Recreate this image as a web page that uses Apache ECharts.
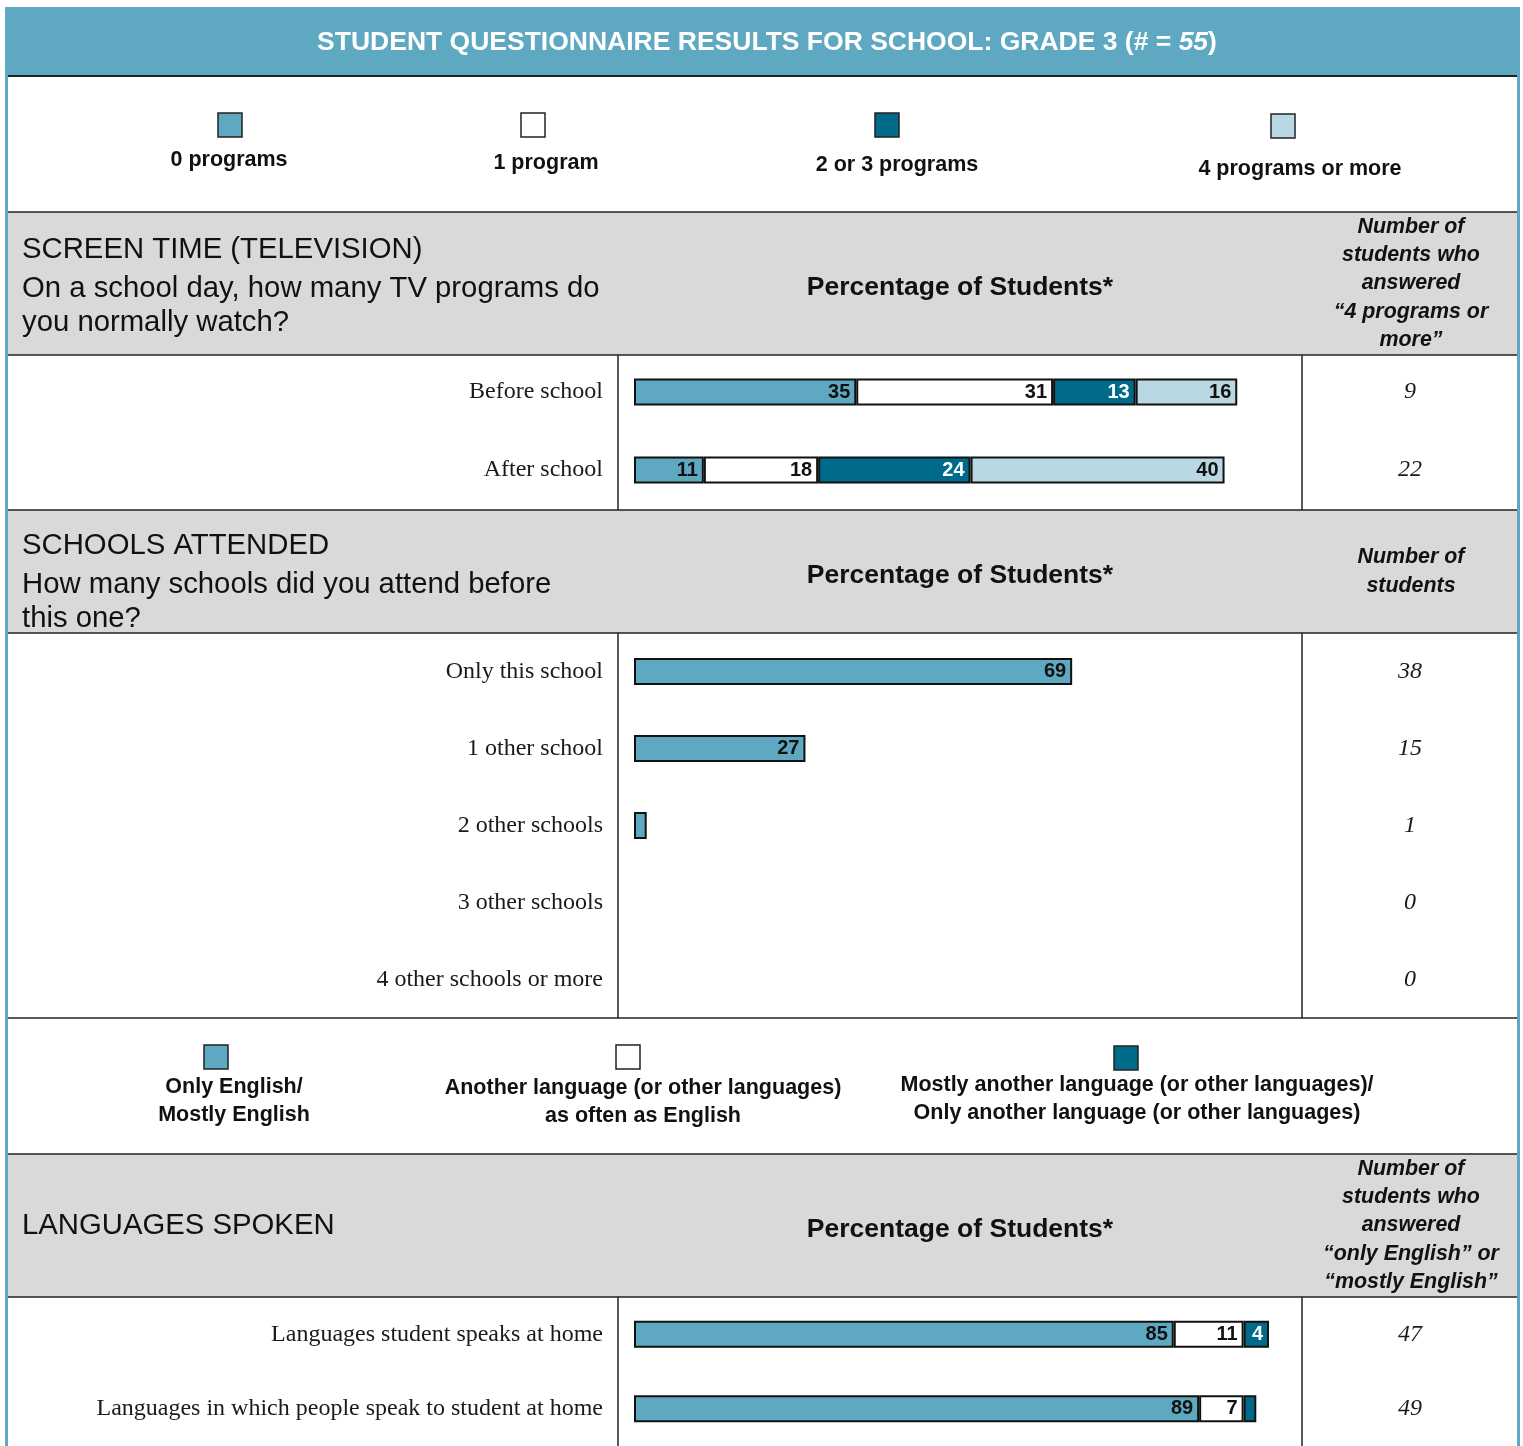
<!DOCTYPE html>
<html>
<head>
<meta charset="utf-8">
<script src="https://cdn.jsdelivr.net/npm/echarts@6/dist/echarts.min.js"></script>
<style>
  html, body { margin: 0; padding: 0; background: #ffffff; }
  #chart { width: 1523px; height: 1446px; }
</style>
</head>
<body>
<div id="chart"></div>
<script>
// ---- Screen time (television) ----
const tvCategories = ['Before school', 'After school'];
const tvNames = ['0 programs', '1 program', '2 or 3 programs', '4 programs or more'];
const tvZero = [35, 11];
const tvOne = [31, 18];
const tvTwoThree = [13, 24];
const tvFourPlus = [16, 40];
const tvCounts = [9, 22];

// ---- Schools attended ----
const schoolCategories = ['Only this school', '1 other school', '2 other schools', '3 other schools', '4 other schools or more'];
const schoolValues = [69, 27, 2, 0, 0];
const schoolCounts = [38, 15, 1, 0, 0];

// ---- Languages spoken ----
const langCategories = ['Languages student speaks at home', 'Languages in which people speak to student at home'];
const langNames = ['Only English/\nMostly English', 'Another language (or other languages)\nas often as English', 'Mostly another language (or other languages)/\nOnly another language (or other languages)'];
const langEnglish = [85, 89];
const langBoth = [11, 7];
const langOther = [4, 2];
const langCounts = [47, 49];

const C_TEAL = '#5ea9c1';
const C_WHITE = '#ffffff';
const C_DARK = '#006a8a';
const C_LIGHT = '#b9d8e3';
const C_GRAY = '#d9d9d9';
const SANS = '"Liberation Sans", Arial, sans-serif';
const SERIF = '"Liberation Serif", "Times New Roman", serif';

const chart = echarts.init(document.getElementById('chart'), null, { renderer: 'canvas' });

function barData(arr) {
  return arr.map(v => v === 0 ? { value: 0, itemStyle: { borderWidth: 0 } } : v);
}

function barSeries(name, data, gridIdx, color, labelColor, stack) {
  return {
    type: 'bar',
    name: name,
    xAxisIndex: gridIdx,
    yAxisIndex: gridIdx * 2,
    stack: stack,
    data: barData(data),
    barWidth: 27,
    itemStyle: { color: color, borderColor: '#111', borderWidth: 2 },
    label: {
      show: true,
      position: 'insideRight',
      distance: 6,
      color: labelColor,
      fontFamily: SANS,
      fontWeight: 'bold',
      fontSize: 20,
      formatter: p => (p.value >= 3 ? String(p.value) : '')
    },
    animation: false
  };
}

// grid geometry for the three bar panels
const grids = [
  { left: 634, width: 635, top: 353, height: 156 },
  { left: 634, width: 635, top: 633, height: 385 },
  { left: 634, width: 635, top: 1297, height: 154 }
];
const catSets = [tvCategories, schoolCategories, langCategories];
const countSets = [tvCounts, schoolCounts, langCounts];

const xAxes = grids.map((g, i) => ({
  type: 'value', gridIndex: i, min: 0, max: 100, show: false
}));
const yAxes = [];
grids.forEach((g, i) => {
  yAxes.push({
    type: 'category', gridIndex: i, inverse: true, data: catSets[i],
    axisLine: { show: false }, axisTick: { show: false }, splitLine: { show: false },
    axisLabel: { margin: 31, fontFamily: SERIF, fontSize: 24, color: '#1a1a1a', padding: [4, 0, 0, 0] }
  });
  yAxes.push({
    type: 'category', gridIndex: i, inverse: true, position: 'right',
    data: countSets[i].map(String),
    axisLine: { show: false }, axisTick: { show: false }, splitLine: { show: false },
    axisLabel: { margin: 141, align: 'center', fontFamily: SERIF, fontStyle: 'italic', fontSize: 24, color: '#1a1a1a', padding: [4, 0, 0, 0] }
  });
});

// ---- static table framework ----
const g = [];
function rect(x, y, w, h, fill) {
  g.push({ type: 'rect', shape: { x, y, width: w, height: h }, style: { fill: fill }, silent: true });
}
function hline(y, w) {
  g.push({ type: 'line', shape: { x1: 8, y1: y, x2: 1517, y2: y }, style: { stroke: '#222', lineWidth: w || 1.5 }, silent: true });
}
function vline(x, y1, y2) {
  g.push({ type: 'line', shape: { x1: x, y1: y1, x2: x, y2: y2 }, style: { stroke: '#222', lineWidth: 1.5 }, silent: true });
}
function text(str, x, y, font, align, fill) {
  g.push({
    type: 'text', silent: true,
    style: { text: str, x: x, y: y, font: font, fill: fill || '#111', textAlign: align || 'center', textVerticalAlign: 'middle' }
  });
}
function swatch(cx, cy, color) {
  g.push({ type: 'rect', shape: { x: cx - 12, y: cy - 12, width: 24, height: 24 }, style: { fill: color, stroke: '#222', lineWidth: 1.5 }, silent: true });
}

// title band and outer frame
rect(5, 7, 1515, 69, C_TEAL);
rect(5, 7, 3, 1439, C_TEAL);
rect(1517, 7, 3, 1439, C_TEAL);

// gray section headers
rect(8, 212, 1509, 143, C_GRAY);
rect(8, 510, 1509, 123, C_GRAY);
rect(8, 1154, 1509, 143, C_GRAY);

hline(76, 2);
hline(212); hline(355); hline(510); hline(633); hline(1018); hline(1154); hline(1297);
vline(618, 355, 510); vline(1302, 355, 510);
vline(618, 633, 1018); vline(1302, 633, 1018);
vline(618, 1297, 1446); vline(1302, 1297, 1446);

// first legend: swatch centre x, swatch centre y, label centre x, label centre y
const BOLD_LEG = 'bold 21.5px ' + SANS;
const tvColors = [C_TEAL, C_WHITE, C_DARK, C_LIGHT];
const tvLegendPos = [[230, 125, 229, 160], [533, 125, 546, 163], [887, 125, 897, 165], [1283, 126, 1300, 169]];
tvNames.forEach((n, i) => {
  const p = tvLegendPos[i];
  swatch(p[0], p[1], tvColors[i]);
  text(n, p[2], p[3], BOLD_LEG);
});

// section 1 header
const HEAD = '29.3px ' + SANS;
const PCT = 'bold 26.5px ' + SANS;
const NUM = 'italic bold 21.4px ' + SANS;
text('SCREEN TIME (TELEVISION)', 22, 250, HEAD, 'left');
text('On a school day, how many TV programs do', 22, 289, HEAD, 'left');
text('you normally watch?', 22, 323, HEAD, 'left');
text('Percentage of Students*', 960, 288, PCT);
['Number of', 'students who', 'answered', '\u201C4 programs or', 'more\u201D'].forEach((s, i) => text(s, 1411, 227 + i * 28.3, NUM));

// section 2 header
text('SCHOOLS ATTENDED', 22, 546, HEAD, 'left');
text('How many schools did you attend before', 22, 585, HEAD, 'left');
text('this one?', 22, 619, HEAD, 'left');
text('Percentage of Students*', 960, 576, PCT);
text('Number of', 1411, 557, NUM);
text('students', 1411, 586, NUM);

// second legend
const langColors = [C_TEAL, C_WHITE, C_DARK];
const langLegendPos = [[216, 1057, 234, 1087], [628, 1057, 643, 1088], [1126, 1058, 1137, 1085]];
langNames.forEach((n, i) => {
  const p = langLegendPos[i];
  swatch(p[0], p[1], langColors[i]);
  n.split('\n').forEach((line, j) => text(line, p[2], p[3] + j * 28.5, BOLD_LEG));
});

// section 3 header
text('LANGUAGES SPOKEN', 22, 1226, HEAD, 'left');
text('Percentage of Students*', 960, 1230, PCT);
['Number of', 'students who', 'answered', '\u201Conly English\u201D or', '\u201Cmostly English\u201D'].forEach((s, i) => text(s, 1411, 1169 + i * 28.3, NUM));

const option = {
  backgroundColor: '#ffffff',
  animation: false,
  title: {
    left: 762, top: 24, textAlign: 'center',
    text: '{a|STUDENT QUESTIONNAIRE RESULTS FOR SCHOOL: GRADE 3 (# = }{b|55}{a|)}',
    textStyle: {
      rich: {
        a: { fontFamily: SANS, fontWeight: 'bold', fontSize: 26.5, color: '#ffffff' },
        b: { fontFamily: SANS, fontWeight: 'bold', fontStyle: 'italic', fontSize: 26.5, color: '#ffffff' }
      }
    }
  },
  graphic: { elements: g },
  grid: grids,
  xAxis: xAxes,
  yAxis: yAxes,
  series: [
    barSeries(tvNames[0], tvZero, 0, C_TEAL, '#111', 'tv'),
    barSeries(tvNames[1], tvOne, 0, C_WHITE, '#111', 'tv'),
    barSeries(tvNames[2], tvTwoThree, 0, C_DARK, '#ffffff', 'tv'),
    barSeries(tvNames[3], tvFourPlus, 0, C_LIGHT, '#111', 'tv'),
    barSeries('Schools attended', schoolValues, 1, C_TEAL, '#111', 'sc'),
    barSeries(langNames[0], langEnglish, 2, C_TEAL, '#111', 'lang'),
    barSeries(langNames[1], langBoth, 2, C_WHITE, '#111', 'lang'),
    barSeries(langNames[2], langOther, 2, C_DARK, '#ffffff', 'lang')
  ]
};
chart.setOption(option);
</script>
</body>
</html>
